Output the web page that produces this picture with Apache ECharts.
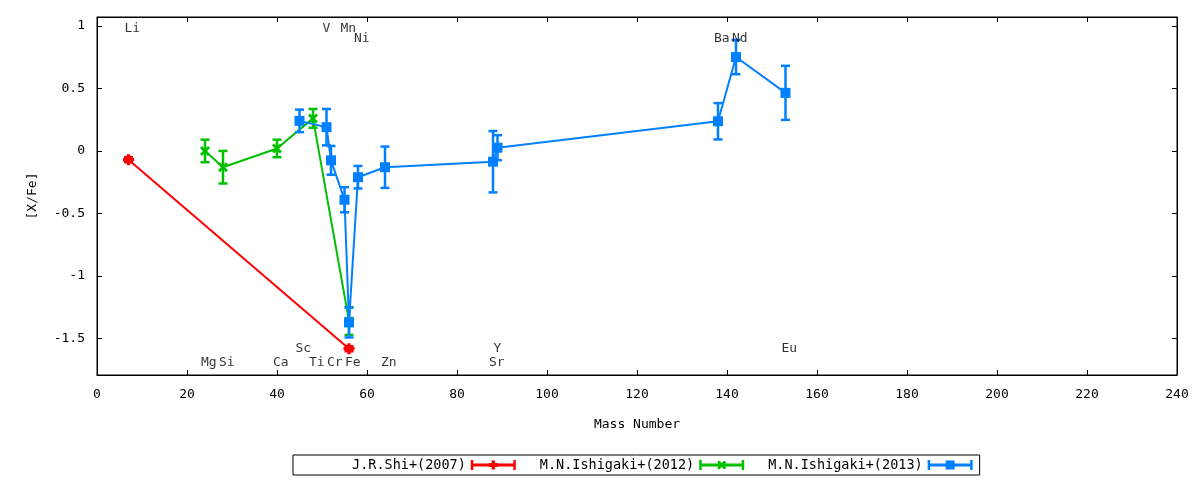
<!DOCTYPE html>
<html>
<head>
<meta charset="utf-8">
<script src="https://cdn.jsdelivr.net/npm/echarts@6/dist/echarts.min.js"></script>
<style>
html,body{margin:0;padding:0;background:#fff;}
#chart{width:1200px;height:480px;}
</style>
</head>
<body>
<div id="chart"></div>
<script>
// ---- data ----
const shiNames = ['Li', 'Fe'];
const shiMass = [7, 56];
const shiVal = [-0.07, -1.58];
const shiErr = [0.02, 0.02];

const ishi12Names = ['Mg', 'Si', 'Ca', 'Ti', 'Fe'];
const ishi12Mass = [24, 28, 40, 48, 56];
const ishi12Val = [0.0, -0.13, 0.02, 0.26, -1.36];
const ishi12Err = [0.09, 0.13, 0.07, 0.075, 0.11];

const ishi13Names = ['Sc', 'V', 'Cr', 'Mn', 'Fe', 'Ni', 'Zn', 'Sr', 'Y', 'Ba', 'Nd', 'Eu'];
const ishi13Mass = [45, 51, 52, 55, 56, 58, 64, 88, 89, 138, 142, 153];
const ishi13Val = [0.24, 0.19, -0.075, -0.39, -1.37, -0.21, -0.13, -0.086, 0.026, 0.237, 0.75, 0.464];
const ishi13Err = [0.09, 0.145, 0.115, 0.1, 0.12, 0.09, 0.165, 0.245, 0.1, 0.145, 0.137, 0.216];

const elemLabels = ['Li', 'V', 'Mn', 'Ni', 'Ba', 'Nd', 'Sc', 'Y', 'Eu', 'Mg', 'Si', 'Ca', 'Ti', 'Cr', 'Fe', 'Zn', 'Sr'];
const elemLabelMass = [7, 51, 55, 58, 138, 142, 45, 89, 153, 24, 28, 40, 48, 52, 56, 64, 88];
const elemLabelY = [0.975, 0.975, 0.975, 0.9, 0.9, 0.9, -1.58, -1.58, -1.58, -1.69, -1.69, -1.69, -1.69, -1.69, -1.69, -1.69, -1.69];

const seriesNames = ['J.R.Shi+(2007)', 'M.N.Ishigaki+(2012)', 'M.N.Ishigaki+(2013)'];
const seriesColors = ['#ff0000', '#00c000', '#0080ff'];

const yTicks = [-1.5, -1, -0.5, 0, 0.5, 1];
const yMin = -1.79, yMax = 1.07;
const xMin = 0, xMax = 240, xStep = 20;

// ---- helpers ----
const FONT = 'DejaVu Sans Mono';
const FS = 13;
function zip2(a, b) { return a.map((v, i) => [v, b[i]]); }
function zip3(a, b, c) { return a.map((v, i) => [v, b[i], c[i]]); }

function errRender(color) {
  return function (params, api) {
    const x = api.value(0), y = api.value(1), e = api.value(2);
    const t = api.coord([x, y + e]);
    const b = api.coord([x, y - e]);
    const h = 4.5;
    const st = { stroke: color, lineWidth: 2.5 };
    return {
      type: 'group',
      children: [
        { type: 'line', shape: { x1: t[0], y1: t[1], x2: b[0], y2: b[1] }, style: st },
        { type: 'line', shape: { x1: t[0] - h, y1: t[1], x2: t[0] + h, y2: t[1] }, style: st },
        { type: 'line', shape: { x1: b[0] - h, y1: b[1], x2: b[0] + h, y2: b[1] }, style: st }
      ]
    };
  };
}

const plusSym = 'path://M3.5,0H6.5V3.5H10V6.5H6.5V10H3.5V6.5H0V3.5H3.5Z';
const xSym = 'path://M0,2L2,0L5,3L8,0L10,2L7,5L10,8L8,10L5,7L2,10L0,8L3,5Z';
const sqSym = 'rect';

const base = 'M0,0H2.5V10H0Z M42.5,0H45V10H42.5Z M0,3.6H45V6.4H0Z ';
const legIcons = [
  'path://' + base + 'M20.8,0.5H24.2V9.5H20.8Z M18,3H27V7H18Z',
  'path://' + base + 'M18.5,1L20.5,1L22.5,3L24.5,1L26.5,1L26.5,3L24.5,5L26.5,7L26.5,9L24.5,9L22.5,7L20.5,9L18.5,9L18.5,7L20.5,5L18.5,3Z',
  'path://' + base + 'M18,0.5H27V9.5H18Z'
];

const masses = [shiMass, ishi12Mass, ishi13Mass];
const vals = [shiVal, ishi12Val, ishi13Val];
const errs = [shiErr, ishi12Err, ishi13Err];
const syms = [plusSym, xSym, sqSym];
const symSizes = [11, 10, 10];

const series = [];
for (let i = 0; i < 3; i++) {
  series.push({
    name: seriesNames[i] + ' err',
    type: 'custom',
    renderItem: errRender(seriesColors[i]),
    data: zip3(masses[i], vals[i], errs[i]),
    encode: { x: 0, y: 1 },
    z: 2 + i * 2,
    silent: true
  });
  series.push({
    name: seriesNames[i],
    type: 'line',
    data: zip2(masses[i], vals[i]),
    symbol: syms[i],
    symbolSize: symSizes[i],
    showAllSymbol: true,
    lineStyle: { color: seriesColors[i], width: 2 },
    itemStyle: { color: seriesColors[i] },
    z: 3 + i * 2,
    animation: false
  });
}

series.push({
  name: 'labels',
  type: 'scatter',
  data: zip2(elemLabelMass, elemLabelY).map((d, i) => ({ value: d, label: { formatter: elemLabels[i] } })),
  symbolSize: 0,
  itemStyle: { color: 'transparent' },
  label: {
    show: true,
    position: 'right',
    distance: -4,
    color: '#000',
    fontFamily: FONT,
    fontSize: FS,
    verticalAlign: 'middle'
  },
  silent: true,
  z: 10
});

const chart = echarts.init(document.getElementById('chart'));
chart.setOption({
  animation: false,
  backgroundColor: '#fff',
  textStyle: { fontFamily: FONT },
  grid: { left: 97, right: 23, top: 17, bottom: 105, show: true, borderColor: '#000', borderWidth: 1 },
  legend: {
    data: seriesNames.map((n, i) => ({ name: n, icon: legIcons[i] })),
    left: 293,
    top: 455,
    align: 'right',
    itemWidth: 45,
    itemHeight: 10,
    itemGap: 24,
    padding: [3, 7, 3, 59],
    borderColor: '#000',
    borderWidth: 1,
    textStyle: { fontFamily: FONT, fontSize: 13.5, color: '#000', lineHeight: 14 },
    selectedMode: false
  },
  xAxis: [{
    type: 'value',
    min: xMin, max: xMax, interval: xStep,
    name: 'Mass Number',
    nameLocation: 'middle',
    nameGap: 43,
    nameTextStyle: { fontFamily: FONT, fontSize: FS, color: '#000' },
    axisLine: { show: true, onZero: false, lineStyle: { color: '#000', width: 1 } },
    axisTick: { show: true, inside: true, length: 5, lineStyle: { color: '#000' } },
    axisLabel: { color: '#000', fontFamily: FONT, fontSize: FS, margin: 13 },
    splitLine: { show: false }
  }, {
    type: 'value',
    position: 'top',
    min: xMin, max: xMax, interval: xStep,
    axisLine: { show: true, onZero: false, lineStyle: { color: '#000', width: 1 } },
    axisTick: { show: true, inside: true, length: 5, lineStyle: { color: '#000' } },
    axisLabel: { show: false },
    splitLine: { show: false }
  }],
  yAxis: [{
    type: 'value',
    min: yMin, max: yMax,
    name: '[X/Fe]',
    nameLocation: 'middle',
    nameGap: 58,
    nameRotate: 90,
    nameTextStyle: { fontFamily: FONT, fontSize: FS, color: '#000' },
    axisLine: { show: true, onZero: false, lineStyle: { color: '#000', width: 1 } },
    axisTick: { show: true, inside: true, length: 5, customValues: yTicks, lineStyle: { color: '#000' } },
    axisLabel: { color: '#000', fontFamily: FONT, fontSize: FS, margin: 12, customValues: yTicks },
    splitLine: { show: false }
  }, {
    type: 'value',
    position: 'right',
    min: yMin, max: yMax,
    axisLine: { show: true, onZero: false, lineStyle: { color: '#000', width: 1 } },
    axisTick: { show: true, inside: true, length: 5, customValues: yTicks, lineStyle: { color: '#000' } },
    axisLabel: { show: false },
    splitLine: { show: false }
  }],
  series: series
});
</script>
</body>
</html>
